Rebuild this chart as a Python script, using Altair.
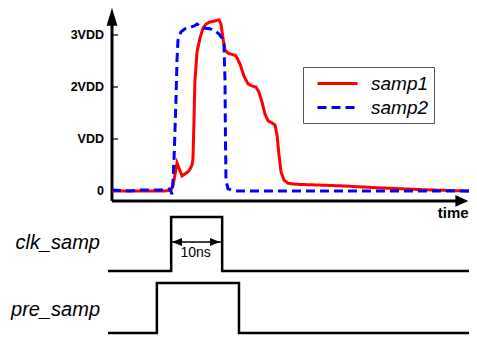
import altair as alt
import pandas as pd

# time in ns (0 at the vertical axis), voltage in VDD units
samp1_t = [0, 3.53, 7.45, 10.39, 11.57, 11.96, 12.35, 12.75, 13.14, 13.73, 14.31, 14.90, 15.29,
           15.69, 15.88, 16.08, 16.27, 16.67, 17.25, 17.84, 18.43, 19.22, 20.20, 20.98, 21.37,
           21.76, 22.16, 22.75, 23.73, 24.31, 25.10, 25.88, 26.67, 27.45, 28.24, 28.82, 29.41,
           30.00, 30.59, 31.37, 31.96, 32.35, 32.75, 33.14, 33.73, 34.51, 35.88, 38.82, 44.71,
           52.55, 62.35, 70.0]
samp1_v = [0, 0, 0, 0, 0.02, 0.10, 0.31, 0.54, 0.44, 0.29, 0.33, 0.37, 0.42,
           0.50, 0.63, 1.37, 2.13, 2.67, 2.94, 3.13, 3.21, 3.25, 3.27, 3.29, 3.21,
           2.94, 2.71, 2.65, 2.62, 2.60, 2.44, 2.21, 2.06, 2.02, 2.00, 1.90, 1.71,
           1.48, 1.35, 1.31, 1.27, 1.08, 0.69, 0.37, 0.21, 0.15, 0.13, 0.12, 0.10,
           0.06, 0.02, 0.0]
samp2_t = [0, 3.53, 5.49, 7.45, 9.41, 11.37, 11.76, 11.96, 12.16, 12.35, 12.55, 12.75, 12.94,
           13.53, 14.31, 15.29, 16.08, 16.67, 17.25, 18.24, 19.22, 20.20, 20.98, 21.57, 21.96,
           22.16, 22.25, 22.35, 22.75, 24.12, 29.02, 36.86, 56.47, 70.0]
samp2_v = [0.02, 0, 0.02, 0.02, 0.02, 0.04, -0.06, 0.21, 0.60, 1.17, 1.75, 2.52, 2.90,
           3.06, 3.12, 3.15, 3.17, 3.21, 3.17, 3.13, 3.12, 3.08, 3.02, 2.94, 2.81,
           2.13, 0.98, 0.21, 0.04, 0, 0, 0, 0, 0]

clk_t = [-0.8, 11.6, 11.6, 21.6, 21.6, 70.0]
clk_v = [-1.54, -1.54, -0.50, -0.50, -1.54, -1.54]
pre_t = [-0.8, 8.8, 8.8, 24.9, 24.9, 70.0]
pre_v = [-2.73, -2.73, -1.77, -1.77, -2.73, -2.73]

ytick_v = [0, 1, 2, 3]
ytick_labels = ["0", "VDD", "2VDD", "3VDD"]
series = ["samp1", "samp2"]
colors = ["#ff0000", "#0000ff"]

FONT = "Liberation Sans"
xs = alt.Scale(domain=[-20.39, 70.0], nice=False, zero=False)
ys = alt.Scale(domain=[-2.769, 3.519], nice=False, zero=False)

waves = pd.DataFrame(
    [{"t": t, "v": v, "s": "samp1", "i": k} for k, (t, v) in enumerate(zip(samp1_t, samp1_v))]
    + [{"t": t, "v": v, "s": "samp2", "i": k} for k, (t, v) in enumerate(zip(samp2_t, samp2_v))]
)
digital = pd.DataFrame(
    [{"t": t, "v": v, "s": "clk", "i": k} for k, (t, v) in enumerate(zip(clk_t, clk_v))]
    + [{"t": t, "v": v, "s": "pre", "i": k} for k, (t, v) in enumerate(zip(pre_t, pre_v))]
)

X = lambda f="t": alt.X(f"{f}:Q", scale=xs, axis=None)
Y = lambda f="v": alt.Y(f"{f}:Q", scale=ys, axis=None)

leg = alt.Legend(orient="none", legendX=295, legendY=59, title=None,
                 labelFontStyle="italic", labelFontSize=19, labelFont=FONT,
                 labelColor="black", symbolType="M-2,0L2,0", symbolSize=400,
                 symbolStrokeWidth=3, strokeColor="#555555", fillColor="white",
                 padding=5, rowPadding=2, labelOffset=22, symbolOffset=18)

wave_layer = alt.Chart(waves).mark_line(strokeWidth=3).encode(
    x=X(), y=Y(),
    color=alt.Color("s:N", scale=alt.Scale(domain=series, range=colors), legend=leg),
    strokeDash=alt.StrokeDash("s:N", scale=alt.Scale(domain=series, range=[[1, 0], [9, 5]]), legend=leg),
    order=alt.Order("i:Q"),
)

dig_layer = alt.Chart(digital).mark_line(strokeWidth=2.5, color="black").encode(
    x=X(), y=Y(), detail="s:N", order=alt.Order("i:Q"),
)

# axes
axis_df = pd.DataFrame({"t": [0, 0], "v": [-0.19, -0.19], "t2": [0, 67.6], "v2": [3.25, -0.19]})
axes = alt.Chart(axis_df).mark_rule(strokeWidth=3, color="black").encode(
    x=X(), y=Y(), x2="t2:Q", y2="v2:Q")

up_head = alt.Chart(pd.DataFrame({"t": [0], "v": [3.35]})).mark_point(
    shape="M-0.6,1L0,-1L0.6,1Z", size=324, filled=True, color="black", opacity=1, strokeWidth=0
).encode(x=X(), y=Y())
right_head = alt.Chart(pd.DataFrame({"t": [68.6], "v": [-0.19]})).mark_point(
    shape="M-1,-0.9L1,0L-1,0.9Z", size=169, filled=True, color="black", opacity=1, strokeWidth=0
).encode(x=X(), y=Y())

tick_df = pd.DataFrame({"v": ytick_v, "lab": ytick_labels})
ticks = alt.Chart(tick_df).mark_rule(strokeWidth=1.2, color="black").encode(
    x=alt.value(104), x2=alt.value(110), y=Y())
tick_text = alt.Chart(tick_df).mark_text(
    align="right", baseline="middle", font=FONT, fontWeight="bold", fontSize=12.5, color="black"
).encode(x=alt.X("tx:Q", scale=xs, axis=None), y=Y(), text="lab:N").transform_calculate(tx="-1.57")

time_lbl = alt.Chart(pd.DataFrame({"t": [66.9], "v": [-0.42], "txt": ["time"]})).mark_text(
    align="center", baseline="middle", font=FONT, fontWeight="bold", fontSize=15, color="black"
).encode(x=X(), y=Y(), text="txt:N")

sig_lbl = alt.Chart(pd.DataFrame({"t": [-2.35, -2.35], "v": [-1.0, -2.28],
                                  "txt": ["clk_samp", "pre_samp"]})).mark_text(
    align="right", baseline="middle", font=FONT, fontStyle="italic", fontSize=20, color="black"
).encode(x=X(), y=Y(), text="txt:N")

# 10ns dimension arrow
dim_rule = alt.Chart(pd.DataFrame({"t": [11.8], "t2": [21.4], "v": [-0.98]})).mark_rule(
    strokeWidth=1.5, color="black").encode(x=X(), x2="t2:Q", y=Y())
dim_heads = alt.Chart(pd.DataFrame({"t": [12.75, 20.2], "v": [-0.98, -0.98],
                                    "sh": ["L", "R"]})).mark_point(
    filled=True, size=100, color="black", opacity=1, strokeWidth=0
).encode(x=X(), y=Y(),
         shape=alt.Shape("sh:N", scale=alt.Scale(domain=["L", "R"],
                                                  range=["M-1,0L1,-0.8L1,0.8Z", "M1,0L-1,-0.8L-1,0.8Z"]),
                         legend=None))
dim_text = alt.Chart(pd.DataFrame({"t": [16.4], "v": [-1.19], "txt": ["10ns"]})).mark_text(
    align="center", baseline="middle", font=FONT, fontSize=14, color="black"
).encode(x=X(), y=Y(), text="txt:N")

chart = alt.layer(
    dig_layer, dim_rule, dim_heads, dim_text, axes, up_head, right_head, ticks, tick_text,
    wave_layer, time_lbl, sig_lbl
).properties(width=461, height=327, autosize="none", padding=0).configure_view(strokeWidth=0)

chart.save("out.html", embed_options={"renderer": "svg", "actions": False})
